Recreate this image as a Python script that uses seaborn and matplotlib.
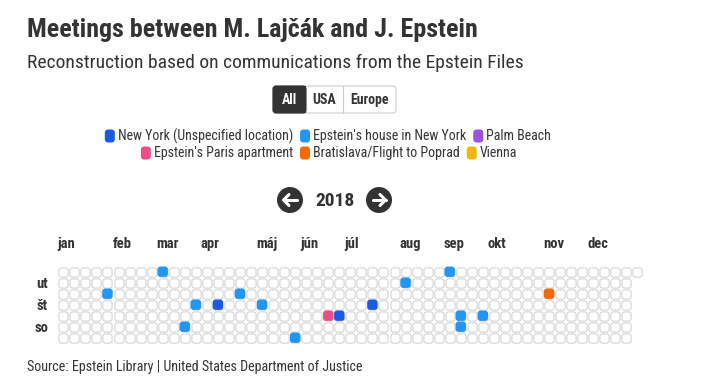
import pandas as pd
import seaborn as sns
import matplotlib.pyplot as plt
from matplotlib.path import Path
from matplotlib.patches import FancyBboxPatch, Circle, Rectangle
from matplotlib import font_manager

# data
year = 2018
month_labels = ["jan", "feb", "mar", "apr", "máj", "jún", "júl", "aug", "sep", "okt", "nov", "dec"]
day_labels = ["po", "ut", "st", "št", "pi", "so", "ne"]
meeting_dates = ["2018-01-31", "2018-03-05", "2018-03-24", "2018-03-29", "2018-04-12",
                 "2018-04-25", "2018-05-10", "2018-06-03", "2018-06-22", "2018-06-29",
                 "2018-07-19", "2018-08-07", "2018-09-03", "2018-09-14", "2018-09-15",
                 "2018-09-28", "2018-11-07"]
meeting_places = ["Epstein's house in New York", "Epstein's house in New York",
                  "Epstein's house in New York", "Epstein's house in New York",
                  "New York (Unspecified location)", "Epstein's house in New York",
                  "Epstein's house in New York", "Epstein's house in New York",
                  "Epstein's Paris apartment", "New York (Unspecified location)",
                  "New York (Unspecified location)", "Epstein's house in New York",
                  "Epstein's house in New York", "Epstein's house in New York",
                  "Epstein's house in New York", "Epstein's house in New York",
                  "Bratislava/Flight to Poprad"]
places = ["New York (Unspecified location)", "Epstein's house in New York", "Palm Beach",
          "Epstein's Paris apartment", "Bratislava/Flight to Poprad", "Vienna"]
place_colors = ["#1b5be3", "#2196f3", "#9c51dc", "#ec4d8a", "#f36903", "#f2b70c"]
palette = dict(zip(places, place_colors))

sns.set_theme(style="white")
names = {f.name for f in font_manager.fontManager.ttflist}
fam, k = "Roboto", 0.87
for c in ["Roboto Condensed", "Liberation Sans Narrow", "Open Sans Condensed"]:
    if c in names:
        fam, k = c, 1.0
        break
plt.rcParams["font.family"] = [fam, "DejaVu Sans"]
dark = "#333333"

# calendar frame
days = pd.date_range(f"{year}-01-01", f"{year}-12-31", freq="D")
offset = days[0].weekday()
grid = pd.DataFrame({"date": days})
grid["weekday"] = grid["date"].dt.weekday
grid["week"] = (grid["date"].dt.dayofyear - 1 + offset) // 7

meet = pd.DataFrame({"date": pd.to_datetime(meeting_dates), "place": meeting_places})
meet["weekday"] = meet["date"].dt.weekday
meet["week"] = (meet["date"].dt.dayofyear - 1 + offset) // 7

# rounded square marker
box = FancyBboxPatch((-0.5, -0.5), 1, 1, boxstyle="round,pad=0,rounding_size=0.28")
rounded = Path(box.get_path().vertices, box.get_path().codes)

W, H = 721, 387
fig = plt.figure(figsize=(W / 100, H / 100), dpi=100)
fig.patch.set_facecolor("white")

pitch_x, pitch_y = 11.04, 11.0
x0, y0 = 63.3, 271.7
left = x0 - pitch_x / 2
top = y0 - pitch_y / 2
ax = fig.add_axes([left / W, 1 - (top + 7 * pitch_y) / H, 53 * pitch_x / W, 7 * pitch_y / H])

sns.scatterplot(data=grid, x="week", y="weekday", marker=rounded, s=44, color="white",
                edgecolor="#d2d2d2", linewidth=0.75, ax=ax, legend=False)
sns.scatterplot(data=meet, x="week", y="weekday", hue="place", palette=palette,
                marker=rounded, s=56, linewidth=0, ax=ax, legend=False, zorder=3)
ax.set_xlim(-0.5, 52.5)
ax.set_ylim(6.5, -0.5)
ax.axis("off")

# month labels at first Monday column
for m, lab in enumerate(month_labels):
    first = pd.Timestamp(year, m + 1, 1)
    d = first + pd.Timedelta(days=(7 - first.weekday()) % 7)
    col = (d.dayofyear - 1 + offset) // 7
    ax.text(col - 0.55, -2.13, lab, ha="left", va="baseline", fontsize=10.5 * max(k, 0.95),
            fontweight="bold", color=dark, clip_on=False)
for r in (1, 3, 5):
    ax.text(-1.94, r + 0.1, day_labels[r], ha="center", va="center", fontsize=10.5,
            fontweight="bold", color=dark, clip_on=False)

# overlay in pixel coordinates
ov = fig.add_axes([0, 0, 1, 1], zorder=-1)
ov.set_xlim(0, W)
ov.set_ylim(H, 0)
ov.axis("off")

ov.text(27, 37, "Meetings between M. Lajčák and J. Epstein", fontsize=18.7 * k,
        fontweight="bold", color=dark, va="baseline")
ov.text(27, 68.5, "Reconstruction based on communications from the Epstein Files",
        fontsize=14 * min(1.0, k + 0.07), color=dark, va="baseline")

# buttons
ov.add_patch(FancyBboxPatch((273, 86), 123, 27, boxstyle="round,pad=0,rounding_size=3",
                            fc="white", ec="#cccccc", lw=0.8))
ov.add_patch(FancyBboxPatch((273, 86), 33, 27, boxstyle="round,pad=0,rounding_size=3",
                            fc=dark, ec=dark, lw=0.8))
ov.add_patch(Rectangle((296, 86), 10, 27, fc=dark, ec="none"))
ov.plot([343, 343], [86, 113], color="#cccccc", lw=0.8)
for cx, lab, col in [(289.5, "All", "white"), (324.5, "USA", dark), (369.5, "Europe", dark)]:
    ov.text(cx, 100, lab, ha="center", va="center", fontsize=10 * max(k, 0.93),
            fontweight="bold", color=col)

# legend rows, centred
fig.canvas.draw()
rend = fig.canvas.get_renderer()
rows = [(places[:3], 136, 328), (places[3:], 153, 329)]
for items, yc, xc in rows:
    texts = []
    widths = []
    for p in items:
        t = ov.text(0, yc, p, fontsize=10.0 * k, color=dark, va="center", ha="left")
        bb = t.get_window_extent(renderer=rend)
        texts.append(t)
        widths.append(bb.width)
    total = sum(10 + 3 + w for w in widths) + 7 * (len(items) - 1)
    x = xc - total / 2
    for p, t, w in zip(items, texts, widths):
        ov.add_patch(FancyBboxPatch((x, yc - 6.5), 10, 13, boxstyle="round,pad=0,rounding_size=3.5",
                                    fc=palette[p], ec="none"))
        t.set_x(x + 13)
        x += 13 + w + 7

# year navigation
for cx, sgn in [(290, -1), (379, 1)]:
    ov.add_patch(Circle((cx, 200), 13, fc=dark, ec="none"))
    ov.plot([cx - 6.5, cx + 6.5], [200, 200], color="white", lw=2.2, solid_capstyle="round")
    tip = cx + sgn * 6.5
    ov.plot([tip - sgn * 5.5, tip, tip - sgn * 5.5], [194.5, 200, 205.5], color="white",
            lw=2.2, solid_capstyle="round", solid_joinstyle="round")
ov.text(335, 200.5, str(year), ha="center", va="center", fontsize=14 * max(k, 0.95),
        fontweight="bold", color=dark)

ov.text(27, 370.5, "Source: Epstein Library | United States Department of Justice",
        fontsize=10.1 * min(1.0, k + 0.05), color=dark, va="baseline")

fig.savefig("out.png", dpi=100, facecolor="white")
